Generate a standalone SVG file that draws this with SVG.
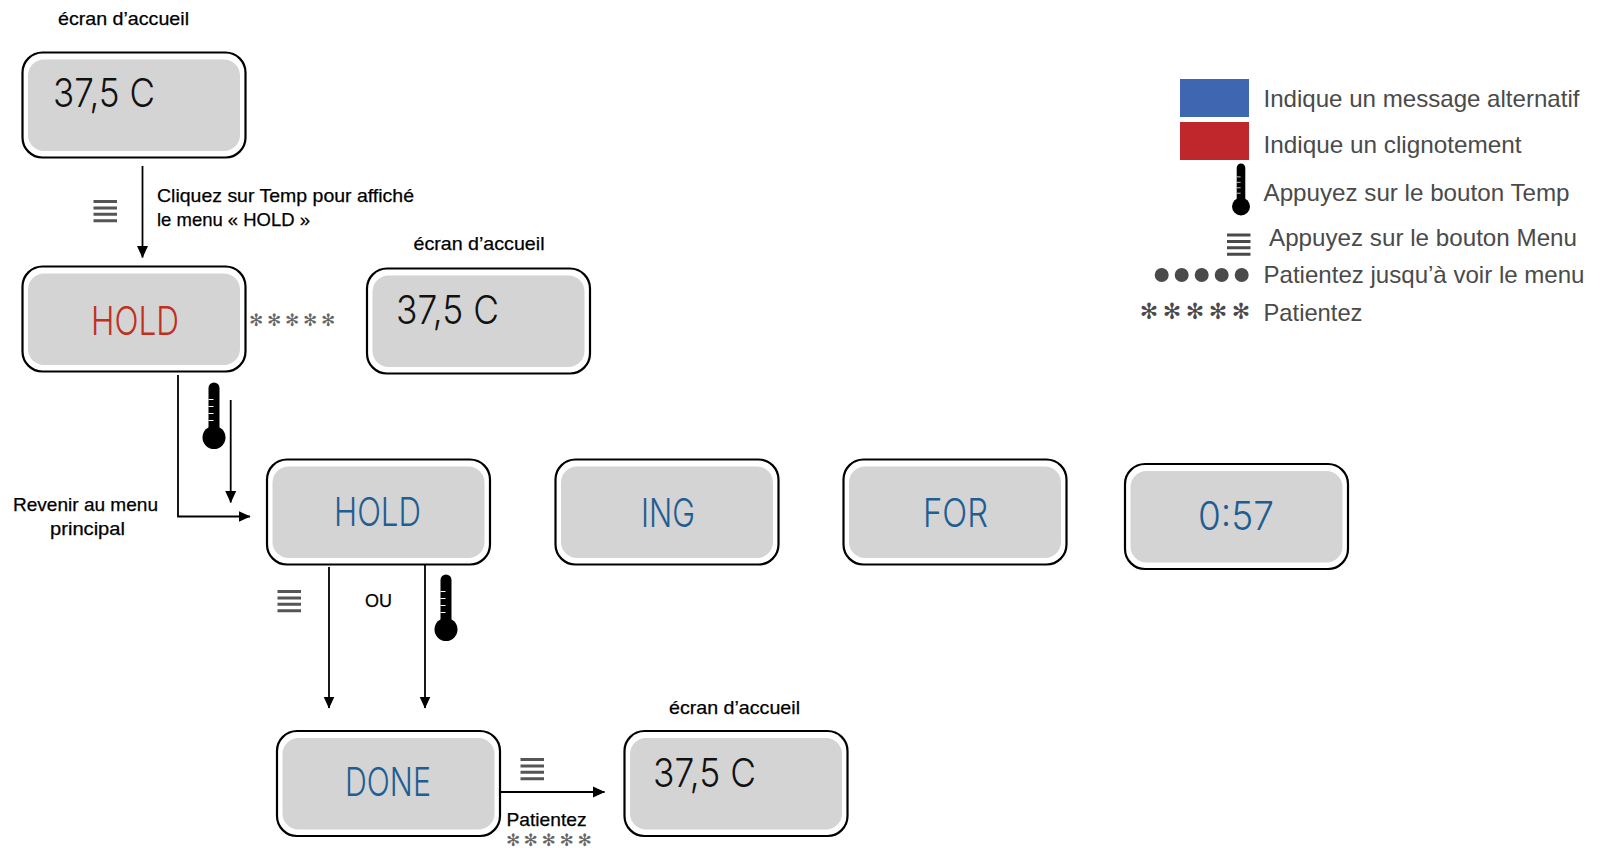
<svg xmlns="http://www.w3.org/2000/svg" width="1601" height="848" viewBox="0 0 1601 848">
<style>
text{font-family:"Liberation Sans",Arial,sans-serif}
.frame{fill:#fff;stroke:#000;stroke-width:2.2}
.screen{fill:#d4d4d4}
.lbl{font-size:18.5px;fill:#000;stroke:#000;stroke-width:.25}
.leg{font-size:24px;fill:#4a4a4a}
.lcd{font-family:Inter,"Liberation Sans",sans-serif;font-weight:300;font-size:40px}
.k{fill:#111}.r{fill:#c0301e}.b{fill:#1f5e93}
.ast{font-family:"DejaVu Sans",sans-serif;font-size:17px;fill:#666;text-anchor:middle}
.astl{font-family:"DejaVu Sans",sans-serif;font-size:22px;fill:#4a4a4a;text-anchor:middle}
.conn{fill:none;stroke:#000;stroke-width:1.8}
.m{stroke:#555;stroke-width:3}
.mk{stroke:#4a4a4a;stroke-width:3}
</style>
<defs>
<marker id="ah" markerUnits="userSpaceOnUse" markerWidth="12" markerHeight="12" refX="11.500" refY="6" orient="auto"><path d="M0 .5L12 6L0 11.500Z" fill="#000"/></marker>
<g id="screen"><rect class="frame" x="0" y="0" width="223" height="105" rx="20"/><rect class="screen" x="5.500" y="7" width="212" height="91.500" rx="16"/></g>
<g id="therm"><rect x="-5.500" y="-55" width="11" height="50" rx="5.500" fill="#000"/><circle r="11.500" fill="#000"/><path d="M-5.500-38H-.5M-5.500-31H-.5M-5.500-24H-.5M-5.500-17H-.5" stroke="#fff" stroke-width="1"/></g>
<g id="menu"><path d="M0 1.500H23.500M0 8H23.500M0 14.200H23.500M0 20.700H23.500"/></g>
</defs>
<rect width="1601" height="848" fill="#fff"/>
<g id="connectors">
<path class="conn" d="M142.500 166V257.500" marker-end="url(#ah)"/>
<path class="conn" d="M230.700 400V502.500" marker-end="url(#ah)"/>
<path class="conn" d="M178 375V516.500H250" marker-end="url(#ah)"/>
<path class="conn" d="M329 567V708" marker-end="url(#ah)"/>
<path class="conn" d="M425 564V708" marker-end="url(#ah)"/>
<path class="conn" d="M500 792H604.500" marker-end="url(#ah)"/>
</g>
<g id="node-home1"><use href="#screen" x="22.500" y="52.500"/><text class="lcd k" x="53" y="107" textLength="102" lengthAdjust="spacingAndGlyphs">37,5 C</text><text class="lbl" x="58" y="25" textLength="131" lengthAdjust="spacingAndGlyphs">écran d’accueil</text></g>
<g id="node-hold-red"><use href="#screen" x="22.500" y="266.500"/><text class="lcd r" x="91" y="335" textLength="88" lengthAdjust="spacingAndGlyphs">HOLD</text></g>
<g id="node-home2"><use href="#screen" x="367" y="268.500"/><text class="lcd k" x="396" y="324" textLength="103" lengthAdjust="spacingAndGlyphs">37,5 C</text><text class="lbl" x="413.500" y="249.500" textLength="131" lengthAdjust="spacingAndGlyphs">écran d’accueil</text></g>
<g id="node-hold-blue"><use href="#screen" x="267" y="459.500"/><text class="lcd b" x="334" y="526" textLength="87" lengthAdjust="spacingAndGlyphs">HOLD</text></g>
<g id="node-ing"><use href="#screen" x="555.500" y="459.500"/><text class="lcd b" x="641" y="527" textLength="54" lengthAdjust="spacingAndGlyphs">ING</text></g>
<g id="node-for"><use href="#screen" x="843.500" y="459.500"/><text class="lcd b" x="923" y="527" textLength="65" lengthAdjust="spacingAndGlyphs">FOR</text></g>
<g id="node-time"><use href="#screen" x="1125" y="464"/><text class="lcd b" x="1198" y="530" textLength="76" lengthAdjust="spacingAndGlyphs">0:57</text></g>
<g id="node-done"><use href="#screen" x="277" y="731"/><text class="lcd b" x="345" y="796" textLength="86" lengthAdjust="spacingAndGlyphs">DONE</text></g>
<g id="node-home3"><use href="#screen" x="624.500" y="731"/><text class="lcd k" x="653" y="787" textLength="103" lengthAdjust="spacingAndGlyphs">37,5 C</text><text class="lbl" x="669" y="714" textLength="131" lengthAdjust="spacingAndGlyphs">écran d’accueil</text></g>
<g id="annotations">
<use href="#menu" class="m" x="93.500" y="200"/>
<use href="#menu" class="m" x="277.500" y="590"/>
<use href="#menu" class="m" x="520.500" y="758"/>
<use href="#therm" x="214" y="437.500"/>
<use href="#therm" x="446" y="629.500"/>
<text class="lbl" x="157" y="201.500" textLength="257" lengthAdjust="spacingAndGlyphs">Cliquez sur Temp pour affiché</text>
<text class="lbl" x="157" y="225.500" textLength="153" lengthAdjust="spacingAndGlyphs">le menu « HOLD »</text>
<text class="lbl" x="13" y="510.500" textLength="145" lengthAdjust="spacingAndGlyphs">Revenir au menu</text>
<text class="lbl" x="50" y="534.500" textLength="75" lengthAdjust="spacingAndGlyphs">principal</text>
<text class="lbl" x="365" y="606.500" textLength="27" lengthAdjust="spacingAndGlyphs">OU</text>
<text class="lbl" x="506.500" y="825.500" textLength="80" lengthAdjust="spacingAndGlyphs">Patientez</text>
<text class="ast" y="326"><tspan x="256">✻</tspan><tspan x="274">✻</tspan><tspan x="292">✻</tspan><tspan x="310">✻</tspan><tspan x="328">✻</tspan></text>
<text class="ast" y="846"><tspan x="513">✻</tspan><tspan x="530.500">✻</tspan><tspan x="548.500">✻</tspan><tspan x="566.500">✻</tspan><tspan x="584.500">✻</tspan></text>
</g>
<g id="legend">
<rect x="1180" y="79" width="69" height="38" fill="#3f66b0"/>
<rect x="1180" y="122" width="69" height="38" fill="#c0272d"/>
<use href="#therm" transform="translate(1241 206.500) scale(.78)"/>
<use href="#menu" class="mk" x="1227" y="233.500"/>
<g fill="#4a4a4a"><circle cx="1161.700" cy="275" r="7"/><circle cx="1181.700" cy="275" r="7"/><circle cx="1201.700" cy="275" r="7"/><circle cx="1221.700" cy="275" r="7"/><circle cx="1241.700" cy="275" r="7"/></g>
<text class="astl" y="319"><tspan x="1149">✻</tspan><tspan x="1172">✻</tspan><tspan x="1195">✻</tspan><tspan x="1218">✻</tspan><tspan x="1241">✻</tspan></text>
<text class="leg" x="1263.500" y="107" textLength="316" lengthAdjust="spacingAndGlyphs">Indique un message alternatif</text>
<text class="leg" x="1263.500" y="153" textLength="258" lengthAdjust="spacingAndGlyphs">Indique un clignotement</text>
<text class="leg" x="1263.500" y="201" textLength="306" lengthAdjust="spacingAndGlyphs">Appuyez sur le bouton Temp</text>
<text class="leg" x="1269" y="246" textLength="308" lengthAdjust="spacingAndGlyphs">Appuyez sur le bouton Menu</text>
<text class="leg" x="1263.500" y="283" textLength="321" lengthAdjust="spacingAndGlyphs">Patientez jusqu’à voir le menu</text>
<text class="leg" x="1263.500" y="321" textLength="99" lengthAdjust="spacingAndGlyphs">Patientez</text>
</g>
</svg>
